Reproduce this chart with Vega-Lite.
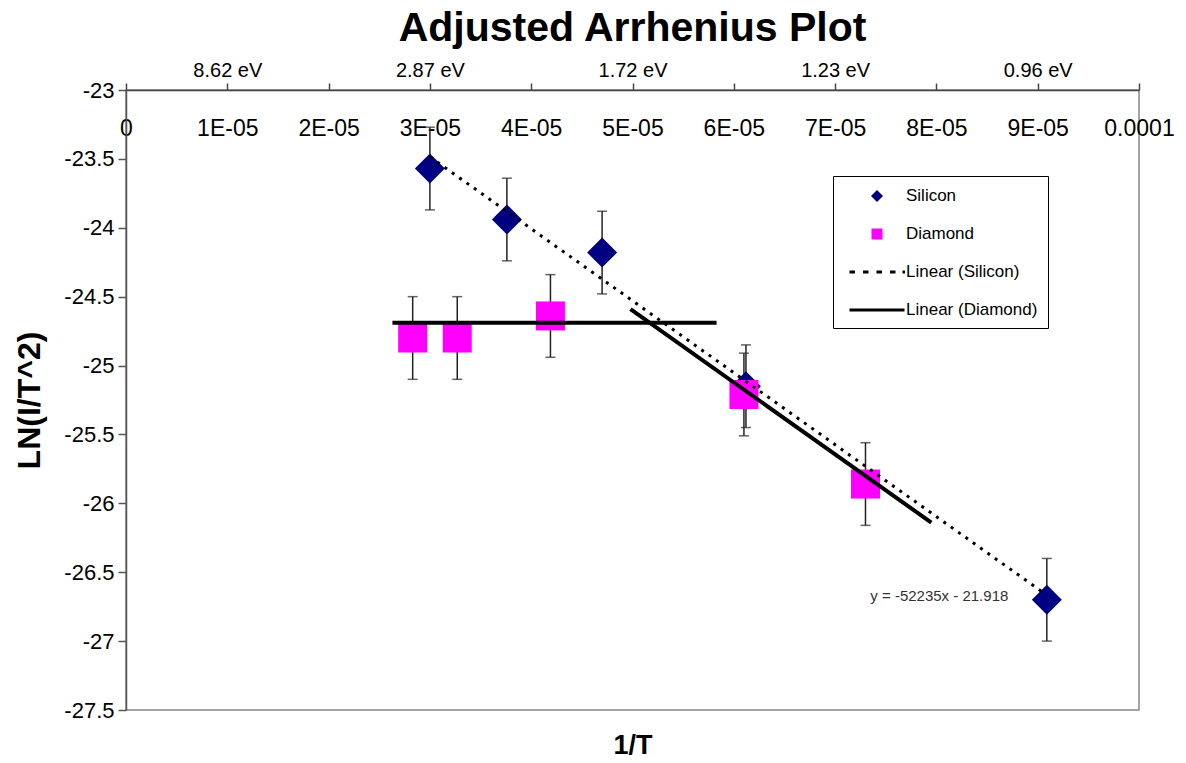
{
  "$schema": "https://vega.github.io/schema/vega-lite/v6.json",
  "width": 1013,
  "height": 620,
  "autosize": {"type": "none"},
  "padding": {"left": 126, "top": 90, "right": 47, "bottom": 53},
  "background": "white",
  "title": {
    "text": "Adjusted Arrhenius Plot",
    "font": "Liberation Sans",
    "fontSize": 41,
    "fontWeight": "bold",
    "color": "black",
    "anchor": "middle",
    "offset": 10
  },
  "config": {
    "font": "Liberation Sans",
    "view": {"stroke": "#888888", "strokeWidth": 1.5},
    "axisY": {
      "grid": false,
      "domainColor": "#555555",
      "domainWidth": 1.5,
      "tickColor": "#555555",
      "tickWidth": 1.5,
      "tickSize": 8,
      "labelFont": "Liberation Sans",
      "labelFontSize": 22,
      "labelColor": "black",
      "labelPadding": 4,
      "titleFont": "Liberation Sans",
      "titleFontSize": 32,
      "titleFontWeight": "bold",
      "titleColor": "black"
    },
    "axisX": {"grid": false},
    "legend": {
      "orient": "none",
      "legendX": 707,
      "legendY": 86,
      "strokeColor": "#000000",
      "fillColor": "#FFFFFF",
      "padding": 10,
      "rowPadding": 20,
      "labelFont": "Liberation Sans",
      "labelFontSize": 17,
      "labelColor": "#000000",
      "labelOffset": 19,
      "symbolOffset": 24,
      "symbolSize": 400,
      "symbolStrokeWidth": 0,
      "labelLimit": 0
    }
  },
  "datasets": {
    "pts": [
      {"series": "Silicon", "x": 0.0000300, "y": -23.57, "lo": -23.87, "hi": -23.27},
      {"series": "Silicon", "x": 0.0000376, "y": -23.94, "lo": -24.24, "hi": -23.64},
      {"series": "Silicon", "x": 0.0000470, "y": -24.18, "lo": -24.48, "hi": -23.88},
      {"series": "Silicon", "x": 0.0000612, "y": -25.15, "lo": -25.45, "hi": -24.85},
      {"series": "Silicon", "x": 0.0000909, "y": -26.70, "lo": -27.00, "hi": -26.40},
      {"series": "Diamond", "x": 0.0000283, "y": -24.80, "lo": -25.10, "hi": -24.50},
      {"series": "Diamond", "x": 0.0000327, "y": -24.80, "lo": -25.10, "hi": -24.50},
      {"series": "Diamond", "x": 0.0000419, "y": -24.64, "lo": -24.94, "hi": -24.34},
      {"series": "Diamond", "x": 0.0000610, "y": -25.21, "lo": -25.51, "hi": -24.91},
      {"series": "Diamond", "x": 0.0000730, "y": -25.86, "lo": -26.16, "hi": -25.56}
    ],
    "lines": [
      {"series": "Linear (Silicon)", "seg": "s", "x": 0.0000300, "y": -23.485},
      {"series": "Linear (Silicon)", "seg": "s", "x": 0.0000909, "y": -26.666},
      {"series": "Linear (Diamond)", "seg": "h", "x": 0.0000263, "y": -24.69},
      {"series": "Linear (Diamond)", "seg": "h", "x": 0.0000583, "y": -24.69},
      {"series": "Linear (Diamond)", "seg": "d", "x": 0.0000498, "y": -24.59},
      {"series": "Linear (Diamond)", "seg": "d", "x": 0.0000795, "y": -26.14}
    ],
    "eq": [
      {"x": 0.0000871, "y": -26.67, "label": "y = -52235x - 21.918"}
    ]
  },
  "resolve": {"axis": {"x": "independent"}},
  "layer": [
    {
      "data": {"name": "pts"},
      "mark": {"type": "rule", "color": "#222222", "strokeWidth": 1.5},
      "encoding": {
        "x": {
          "field": "x", "type": "quantitative",
          "scale": {"domain": [0, 0.0001], "nice": false, "zero": false},
          "axis": {
            "orient": "top",
            "values": [0, 0.00001, 0.00002, 0.00003, 0.00004, 0.00005, 0.00006, 0.00007, 0.00008, 0.00009, 0.0001],
            "labelExpr": "abs(datum.value - 0.00001) < 1e-9 ? '8.62 eV' : abs(datum.value - 0.00003) < 1e-9 ? '2.87 eV' : abs(datum.value - 0.00005) < 1e-9 ? '1.72 eV' : abs(datum.value - 0.00007) < 1e-9 ? '1.23 eV' : abs(datum.value - 0.00009) < 1e-9 ? '0.96 eV' : ''",
            "title": null,
            "domain": true,
            "domainColor": "#444444",
            "domainWidth": 1.5,
            "ticks": true,
            "tickColor": "#444444",
            "tickWidth": 1.5,
            "tickSize": 7,
            "labels": true,
            "labelFont": "Liberation Sans",
            "labelFontSize": 20,
            "labelColor": "black",
            "labelPadding": 3,
            "labelOverlap": false,
            "labelFlush": false
          }
        },
        "y": {
          "field": "lo", "type": "quantitative",
          "scale": {"domain": [-27.5, -23], "nice": false, "zero": false},
          "axis": {
            "values": [-27.5, -27, -26.5, -26, -25.5, -25, -24.5, -24, -23.5, -23],
            "labelExpr": "'' + datum.value",
            "title": "LN(I/T^2)",
            "titleX": -97,
            "titleBaseline": "middle"
          }
        },
        "y2": {"field": "hi"}
      }
    },
    {
      "data": {"name": "pts"},
      "layer": [
        {"mark": {"type": "tick", "orient": "horizontal", "color": "#222222", "size": 10, "thickness": 1.5},
         "encoding": {"y": {"field": "lo", "type": "quantitative"}}},
        {"mark": {"type": "tick", "orient": "horizontal", "color": "#222222", "size": 10, "thickness": 1.5},
         "encoding": {"y": {"field": "hi", "type": "quantitative"}}}
      ],
      "encoding": {
        "x": {
          "field": "x", "type": "quantitative",
          "axis": {
            "orient": "bottom",
            "offset": -620,
            "values": [0, 0.00001, 0.00002, 0.00003, 0.00004, 0.00005, 0.00006, 0.00007, 0.00008, 0.00009, 0.0001],
            "labelExpr": "datum.value == 0 ? '0' : datum.value > 0.0000995 ? '0.0001' : format(datum.value * 100000, '.0f') + 'E-05'",
            "domain": false,
            "ticks": false,
            "tickSize": 0,
            "labelFont": "Liberation Sans",
            "labelFontSize": 23,
            "labelColor": "black",
            "labelBaseline": "middle",
            "labelPadding": 38,
            "labelOverlap": false,
            "labelFlush": false,
            "title": "1/T",
            "titleFont": "Liberation Sans",
            "titleFontSize": 27,
            "titleFontWeight": "bold",
            "titleColor": "black",
            "titleY": 655,
            "titleBaseline": "middle"
          }
        }
      }
    },
    {
      "data": {"name": "pts"},
      "transform": [{"filter": "datum.series == 'Silicon'"}],
      "mark": {"type": "point", "filled": true, "size": 2500, "opacity": 1, "strokeWidth": 0},
      "encoding": {
        "x": {"field": "x", "type": "quantitative", "axis": null},
        "y": {"field": "y", "type": "quantitative"},
        "color": {
          "field": "series", "type": "nominal",
          "scale": {
            "domain": ["Silicon", "Diamond", "Linear (Silicon)", "Linear (Diamond)"],
            "range": ["#000080", "#FF00FF", "#000000", "#000000"]
          },
          "legend": {"title": null}
        },
        "shape": {
          "field": "series", "type": "nominal",
          "scale": {
            "domain": ["Silicon", "Diamond", "Linear (Silicon)", "Linear (Diamond)"],
            "range": [
              "M0,-0.6L0.6,0L0,0.6L-0.6,0Z",
              "M-0.55,-0.55L0.55,-0.55L0.55,0.55L-0.55,0.55Z",
              "M-2.75,-0.14L-2.2,-0.14L-2.2,0.14L-2.75,0.14ZM-1.4,-0.14L-0.85,-0.14L-0.85,0.14L-1.4,0.14ZM-0.05,-0.14L0.5,-0.14L0.5,0.14L-0.05,0.14ZM1.3,-0.14L1.85,-0.14L1.85,0.14L1.3,0.14ZM2.55,-0.14L2.8,-0.14L2.8,0.14L2.55,0.14Z",
              "M-2.75,-0.14L2.75,-0.14L2.75,0.14L-2.75,0.14Z"
            ]
          },
          "legend": {"title": null}
        }
      }
    },
    {
      "data": {"name": "pts"},
      "transform": [{"filter": "datum.series == 'Diamond'"}],
      "mark": {"type": "point", "filled": true, "size": 2780, "opacity": 1, "strokeWidth": 0},
      "encoding": {
        "x": {"field": "x", "type": "quantitative", "axis": null},
        "y": {"field": "y", "type": "quantitative"},
        "color": {"field": "series", "type": "nominal", "legend": {"title": null}},
        "shape": {"field": "series", "type": "nominal", "legend": {"title": null}}
      }
    },
    {
      "data": {"name": "lines"},
      "transform": [{"filter": "datum.series == 'Linear (Silicon)'"}],
      "mark": {"type": "line", "color": "#000000", "strokeWidth": 3, "strokeDash": [3, 6]},
      "encoding": {
        "x": {"field": "x", "type": "quantitative", "axis": null},
        "y": {"field": "y", "type": "quantitative"},
        "detail": {"field": "seg"}
      }
    },
    {
      "data": {"name": "lines"},
      "transform": [{"filter": "datum.series == 'Linear (Diamond)'"}],
      "mark": {"type": "line", "color": "#000000", "strokeWidth": 4},
      "encoding": {
        "x": {"field": "x", "type": "quantitative", "axis": null},
        "y": {"field": "y", "type": "quantitative"},
        "detail": {"field": "seg"}
      }
    },
    {
      "data": {"name": "eq"},
      "mark": {"type": "text", "align": "right", "baseline": "middle", "font": "Liberation Sans", "fontSize": 15, "color": "#333333"},
      "encoding": {
        "x": {"field": "x", "type": "quantitative", "axis": null},
        "y": {"field": "y", "type": "quantitative"},
        "text": {"field": "label"}
      }
    }
  ]
}
